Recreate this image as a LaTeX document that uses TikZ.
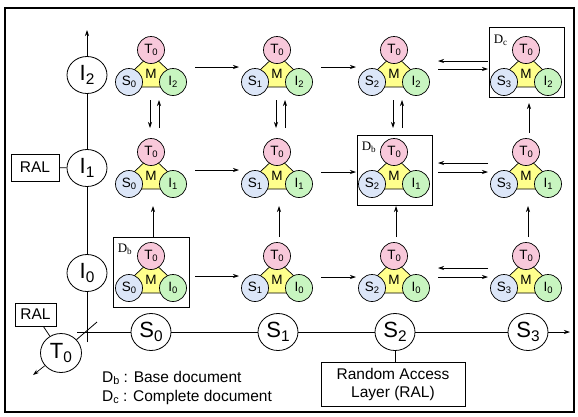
\documentclass[tikz,border=0pt]{standalone}
\usepackage{fontspec}
\usepackage{graphicx}
\setmainfont{Liberation Sans}
\newfontfamily\tnr{Liberation Serif}
\usetikzlibrary{shapes.geometric,arrows.meta,calc}
\definecolor{pinkT}{RGB}{248,200,218}
\definecolor{blueS}{RGB}{220,230,248}
\definecolor{greenI}{RGB}{200,245,192}
\definecolor{yellowM}{RGB}{255,255,140}
\newcommand\sbs[1]{\raisebox{-0.3ex}{\scalebox{0.7}{#1}}}
\tikzset{
  ax/.style={draw, ellipse, fill=white, minimum width=40pt, minimum height=37pt, inner sep=0pt, line width=0.8pt, font=\fontsize{22}{22}\selectfont},
  mc/.style={draw, circle, minimum size=27pt, inner sep=0pt, line width=0.7pt, font=\fontsize{13.5}{13.5}\selectfont},
  pentfill/.style={draw, line width=0.7pt, fill=yellowM, line join=round},
  mlab/.style={inner sep=0pt, font=\fontsize{13.5}{13.5}\selectfont},
  arr/.style={-{Stealth[length=6pt,width=4pt]}, line width=0.7pt},
  axl/.style={line width=0.8pt},
  lbox/.style={draw, rectangle, inner sep=0pt, line width=0.8pt, font=\fontsize{15.5}{18}\selectfont, align=center},
  dbox/.style={draw, rectangle, inner sep=0pt, line width=0.8pt},
  dlab/.style={anchor=west, inner sep=0pt, font=\tnr\fontsize{13}{13}\selectfont},
  legend/.style={anchor=west, inner sep=0pt, font=\fontsize{15.5}{18}\selectfont},
}
\newcommand\motif[5]{%
  \filldraw[pentfill] (#2,#3-20) -- (#2-17,#3-4) -- (#2-11,#3+13) -- (#2+11,#3+13) -- (#2+17,#3-4) -- cycle;
  \node[mlab] (#1M) at (#2,#3) {M};
  \node[mc, fill=pinkT] (#1T) at (#2,#3-24) {T\sbs{0}};
  \node[mc, fill=blueS] (#1S) at (#2-22,#3+8) {S\sbs{#4}};
  \node[mc, fill=greenI] (#1I) at (#2+22,#3+8) {I\sbs{#5}};
}
\newcommand\harr[3]{\draw[arr] ([shift={(44,#3)}]#1M.center) -- ([shift={(-38,#3)}]#2M.center);}
\newcommand\larr[3]{\draw[arr] ([shift={(-38,#3)}]#2M.center) -- ([shift={(44,#3)}]#1M.center);}
\begin{document}
\begin{tikzpicture}[x=1pt,y=-1pt]
\useasboundingbox (0,0) rectangle (578,416);
\draw[line width=2pt] (5,8) rectangle (574,412);

% axes
\coordinate (itop) at (87,30);
\coordinate (ibot) at (87,342);
\coordinate (sleft) at (77,332);
\coordinate (sright) at (570,332);
\coordinate (tne) at (97,322);
\coordinate (tsw) at (33,375);
\node[ax] (I2) at (87,75) {I\sbs{2}};
\node[ax] (I1) at (87,168) {I\sbs{1}};
\node[ax] (I0) at (87,273) {I\sbs{0}};
\node[ax] (S0) at (151,332) {S\sbs{0}};
\node[ax] (S1) at (278,332) {S\sbs{1}};
\node[ax] (S2) at (395,332) {S\sbs{2}};
\node[ax] (S3) at (528,332) {S\sbs{3}};
\node[ax, minimum width=41pt, minimum height=39pt] (T0) at (61,353) {T\sbs{0}};
\draw[axl] (ibot) -- (I0);
\draw[axl] (I0) -- (I1);
\draw[axl] (I1) -- (I2);
\draw[axl,arr] (I2) -- (itop);
\draw[axl] (sleft) -- (S0);
\draw[axl] (S0) -- (S1);
\draw[axl] (S1) -- (S2);
\draw[axl] (S2) -- (S3);
\draw[axl,arr] (S3) -- (sright);
\draw[axl] (tne) -- (T0);
\draw[axl,arr] (T0) -- (tsw);

\node[lbox, minimum width=48pt, minimum height=27pt] (RAL1) at (35,167.5) {RAL};
\node[lbox, minimum width=41pt, minimum height=23pt] (RAL0) at (35.5,314.5) {RAL};
\node[lbox, minimum width=144pt, minimum height=44pt] (RAL) at (393,384) {Random Access\\Layer (RAL)};
\draw[axl] (RAL1) -- (I1);
\draw[axl] (RAL0) -- (T0);
\draw[axl] (S2.south) -- (S2.south |- RAL.north);

\node[legend] (lg1) at (102,378) {D\sbs{b} : Base document};
\node[legend] (lg2) at (102,397) {D\sbs{c} : Complete document};

% motifs: rows a (top), b (middle), c (bottom); cols 0..3
\motif{a0}{151}{74}{0}{2}
\motif{a1}{277}{74}{1}{2}
\motif{a2}{394}{74}{2}{2}
\motif{a3}{526}{74}{3}{2}
\motif{b0}{151}{176}{0}{1}
\motif{b1}{277}{176}{1}{1}
\motif{b2}{394}{176}{2}{1}
\motif{b3}{526}{176}{3}{1}
\motif{c0}{151}{280}{0}{0}
\motif{c1}{277}{280}{1}{0}
\motif{c2}{394}{280}{2}{0}
\motif{c3}{526}{280}{3}{0}

% boxes
\node[dbox, minimum width=76pt, minimum height=70pt] (boxc0) at (151,272) {};
\node[dbox, minimum width=75pt, minimum height=70pt] (boxb2) at (394.5,170) {};
\node[dbox, minimum width=75pt, minimum height=70pt] (boxa3) at (526.5,62) {};
\node[dlab] (lc0) at ([shift={(5,13)}]boxc0.north west) {D\sbs{b}};
\node[dlab] (lb2) at ([shift={(5,13)}]boxb2.north west) {D\sbs{b}};
\node[dlab] (la3) at ([shift={(5,14)}]boxa3.north west) {D\sbs{c}};

% horizontal arrows
\harr{a0}{a1}{-7}
\harr{a1}{a2}{-7}
\larr{a2}{a3}{-13}
\harr{a2}{a3}{-5}
\harr{b0}{b1}{-6}
\harr{b1}{b2}{-4}
\larr{b2}{b3}{-13}
\harr{b2}{b3}{-4}
\harr{c0}{c1}{-4}
\harr{c1}{c2}{-3}
\larr{c2}{c3}{-12}
\harr{c2}{c3}{-3}

% vertical arrows
\foreach \t/\b in {a0/b0,a1/b1,a2/b2}{
  \draw[arr] ([shift={(-1,26)}]\t M.center) -- ([shift={(-1,-48)}]\b M.center);
  \draw[arr] ([shift={(8,-48)}]\b M.center) -- ([shift={(8,26)}]\t M.center);
}
\draw[arr] ([shift={(3,-43)}]b3M.center) -- ([shift={(3,29)}]a3M.center);
\foreach \t/\b in {b0/c0,b1/c1,b2/c2,b3/c3}{
  \draw[arr] ([shift={(2,-43)}]\b M.center) -- ([shift={(2,30)}]\t M.center);
}
\end{tikzpicture}
\end{document}
